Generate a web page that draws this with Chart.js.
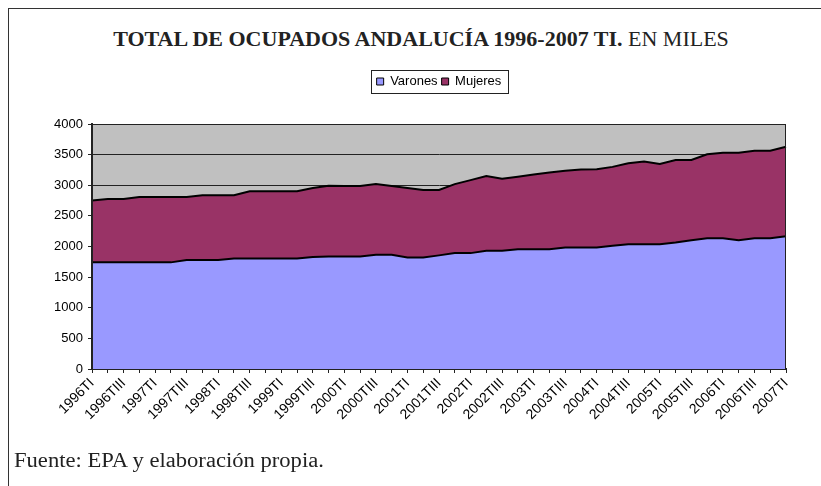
<!DOCTYPE html>
<html>
<head>
<meta charset="utf-8">
<script src="https://cdn.jsdelivr.net/npm/chart.js@4"></script>
<style>
    body { margin: 0; background: #fff; }
    #wrap { position: relative; width: 821px; height: 486px; overflow: hidden; }
    #frame { position: absolute; left: 8px; top: 8px; width: 900px; height: 600px; border-left: 1px solid #333; border-top: 1px solid #333; }
    #title { position: absolute; left: 0; width: 842px; top: 26px; text-align: center; font-family: "Liberation Serif", serif; font-size: 22px; color: #222; }
    #title b { font-weight: bold; }
    #source { position: absolute; left: 14px; top: 449px; font-family: "Liberation Serif", serif; font-size: 20px; color: #222; transform: scaleX(1.13); transform-origin: left top; }
    canvas { position: absolute; left: 0; top: 0; }
</style>
</head>
<body>
<div id="wrap">
    <div id="frame"></div>
    <div id="title"><b>TOTAL DE OCUPADOS ANDALUCÍA 1996-2007 TI.</b> EN MILES</div>
    <canvas id="chart" width="821" height="486"></canvas>
    <div id="source">Fuente: EPA y elaboración propia.</div>
</div>
<script>
// Quarters 1996TI .. 2007TI
const quarters = [
    '1996TI', '1996TII', '1996TIII', '1996TIV',
    '1997TI', '1997TII', '1997TIII', '1997TIV',
    '1998TI', '1998TII', '1998TIII', '1998TIV',
    '1999TI', '1999TII', '1999TIII', '1999TIV',
    '2000TI', '2000TII', '2000TIII', '2000TIV',
    '2001TI', '2001TII', '2001TIII', '2001TIV',
    '2002TI', '2002TII', '2002TIII', '2002TIV',
    '2003TI', '2003TII', '2003TIII', '2003TIV',
    '2004TI', '2004TII', '2004TIII', '2004TIV',
    '2005TI', '2005TII', '2005TIII', '2005TIV',
    '2006TI', '2006TII', '2006TIII', '2006TIV',
    '2007TI'
];

// Thousands of people employed
const varones = [
    1741, 1741, 1741, 1741,
    1741, 1741, 1780, 1780,
    1780, 1806, 1806, 1806,
    1806, 1806, 1830, 1838,
    1838, 1838, 1865, 1865,
    1822, 1822, 1855, 1892,
    1892, 1930, 1930, 1957,
    1957, 1957, 1984, 1984,
    1984, 2011, 2038, 2038,
    2038, 2065, 2103, 2136,
    2136, 2103, 2136, 2136,
    2168
];

const mujeres = [
    1010, 1036, 1036, 1068,
    1068, 1068, 1029, 1056,
    1056, 1030, 1095, 1095,
    1095, 1095, 1125, 1152,
    1149, 1149, 1154, 1122,
    1133, 1100, 1067, 1127,
    1192, 1219, 1176, 1182,
    1219, 1251, 1252, 1273,
    1278, 1289, 1321, 1348,
    1311, 1348, 1310, 1369,
    1396, 1429, 1428, 1428,
    1461
];

const yTicks = [0, 500, 1000, 1500, 2000, 2500, 3000, 3500, 4000];

// empty box between legend and plot, keeps the gap of the original
const legendGap = {
    id: 'legendGap',
    beforeInit(chart) {
        Chart.layouts.addBox(chart, {
            position: 'top',
            weight: 500,
            fullSize: false,
            options: {},
            top: 0, left: 0, right: 0, bottom: 0, width: 0, height: 0,
            update(maxWidth) { this.width = maxWidth; this.height = 26; },
            isHorizontal() { return true; },
            draw() {}
        });
    }
};

// grey plot background + frame around legend
const plotBackground = {
    id: 'plotBackground',
    beforeDraw(chart) {
        const { ctx, chartArea: a } = chart;
        ctx.save();
        ctx.fillStyle = '#c0c0c0';
        ctx.fillRect(a.left, a.top, a.right - a.left, a.bottom - a.top);
        ctx.restore();
    },
    afterDraw(chart) {
        const { ctx, chartArea: a } = chart;
        ctx.save();
        ctx.strokeStyle = '#222';
        ctx.lineWidth = 1;
        ctx.strokeRect(a.left + 0.5, a.top + 0.5, a.right - a.left - 1, a.bottom - a.top);
        const boxes = chart.legend.legendHitBoxes;
        if (boxes && boxes.length) {
            const left = Math.min(...boxes.map(b => b.left)) - 6;
            const right = Math.max(...boxes.map(b => b.left + b.width)) + 6;
            const top = Math.min(...boxes.map(b => b.top)) - 5;
            const bottom = Math.max(...boxes.map(b => b.top + b.height)) + 5;
            ctx.strokeRect(Math.round(left) + 0.5, Math.round(top) + 0.5, Math.round(right - left), Math.round(bottom - top));
        }
        ctx.restore();
    }
};

new Chart(document.getElementById('chart'), {
    type: 'line',
    data: {
        labels: quarters,
        datasets: [{
            label: 'Varones',
            data: varones,
            backgroundColor: '#9999ff',
            borderColor: '#000',
            borderWidth: 2,
            fill: 'origin',
            pointRadius: 0,
            tension: 0
        }, {
            label: 'Mujeres',
            data: mujeres,
            backgroundColor: '#993366',
            borderColor: '#000',
            borderWidth: 2,
            fill: '-1',
            pointRadius: 0,
            tension: 0
        }]
    },
    options: {
        responsive: false,
        animation: false,
        layout: {
            padding: { top: 71, right: 35, bottom: 0, left: 0 }
        },
        scales: {
            x: {
                offset: false,
                grid: {
                    drawOnChartArea: false,
                    color: '#222',
                    tickLength: 4
                },
                border: { color: '#222', width: 2 },
                ticks: {
                    autoSkip: false,
                    maxRotation: 45,
                    minRotation: 45,
                    color: '#000',
                    padding: 2,
                    font: { family: 'Liberation Sans', size: 14 },
                    callback: (v, i) => (i % 2 === 0 ? quarters[i] : '')
                },
                afterFit: (scale) => { scale.height = 117; }
            },
            y: {
                stacked: true,
                min: 0,
                max: 4000,
                afterBuildTicks: (scale) => { scale.ticks = yTicks.map(v => ({ value: v })); },
                grid: {
                    color: '#222',
                    tickLength: 4
                },
                border: { color: '#222', width: 2 },
                ticks: {
                    color: '#000',
                    padding: 5,
                    font: { family: 'Liberation Sans', size: 13 },
                    callback: (v) => String(v)
                },
                afterFit: (scale) => { scale.width = 92; }
            }
        },
        plugins: {
            legend: {
                position: 'top',
                fullSize: false,
                labels: {
                    color: '#000',
                    boxWidth: 7,
                    boxHeight: 7,
                    padding: 4,
                    font: { family: 'Liberation Sans', size: 13 },
                    generateLabels: (chart) => chart.data.datasets.map((ds, i) => ({
                        text: ds.label,
                        fillStyle: ds.backgroundColor,
                        strokeStyle: '#000',
                        lineWidth: 1,
                        datasetIndex: i
                    }))
                }
            },
            tooltip: { enabled: false }
        }
    },
    plugins: [legendGap, plotBackground]
});
</script>
</body>
</html>
